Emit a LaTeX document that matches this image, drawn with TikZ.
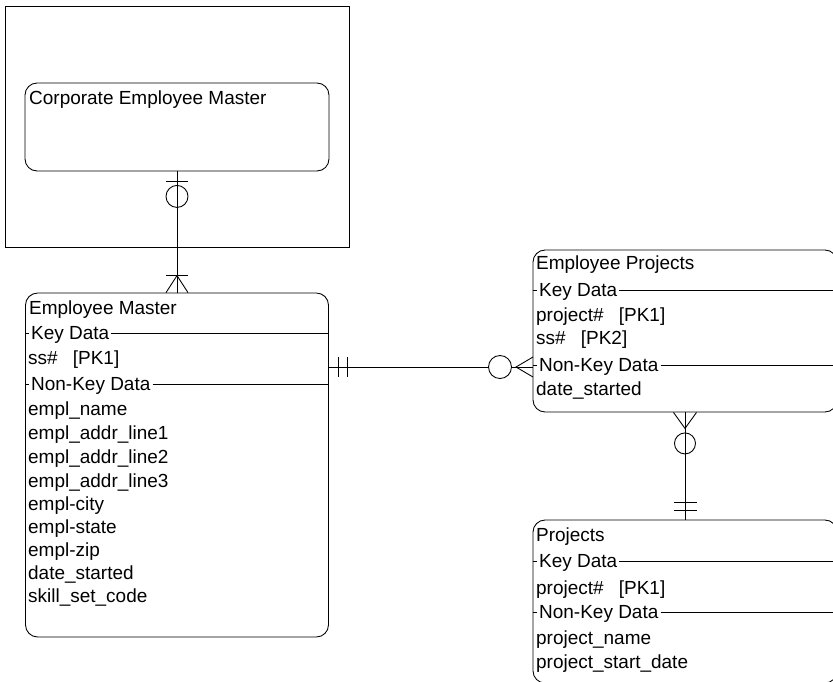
\documentclass[tikz,border=0pt]{standalone}
\usepackage{fontspec}
\setmainfont{Liberation Sans}
\usetikzlibrary{calc}

\begin{document}
\begin{tikzpicture}[
    x=0.02cm, y=-0.02cm, line width=0.5pt,
    ent/.style={draw, rounded corners=0.24cm, inner sep=0pt},
    fld/.style={anchor=west, inner xsep=1pt, inner ysep=0pt, text height=0.3cm, text depth=0.06cm, font=\fontsize{10.8pt}{13pt}\selectfont}
]
\useasboundingbox (0,0) rectangle (833,681);

% frame and entities
\node[draw, minimum width=6.88cm, minimum height=4.82cm, inner sep=0pt] (frame) at (177,126.5) {};
\node[ent, minimum width=6.08cm, minimum height=1.76cm] (cem) at (177,127) {};
\node[ent, minimum width=6.06cm, minimum height=6.88cm] (em) at (177,465) {};
\node[ent, minimum width=6.08cm, minimum height=3.24cm] (ep) at (685,331) {};
\node[ent, minimum width=6.08cm, minimum height=3.26cm] (prj) at (685,601.5) {};

% Corporate Employee Master
\node[fld] (cemT) at (27,98) {Corporate Employee Master};

% Employee Master
\node[fld] (emT) at (27,308) {Employee Master};
\node[fld] (emK) at (29,333) {Key Data};
\node[fld] (emF1) at (26,358) {ss\#\hspace{0.8em}[PK1]};
\node[fld] (emN) at (29,384) {Non-Key Data};
\node[fld] (emF2) at (26,409) {empl\_name};
\node[fld] (emF3) at (26,433) {empl\_addr\_line1};
\node[fld] (emF4) at (26,457) {empl\_addr\_line2};
\node[fld] (emF5) at (26,481) {empl\_addr\_line3};
\node[fld] (emF6) at (26,504) {empl-city};
\node[fld] (emF7) at (26,527) {empl-state};
\node[fld] (emF8) at (26,550) {empl-zip};
\node[fld] (emF9) at (26,573) {date\_started};
\node[fld] (emF10) at (26,596) {skill\_set\_code};
\draw (em.west |- emK) -- (emK.west);
\draw (emK.east) -- (em.east |- emK);
\draw (em.west |- emN) -- (emN.west);
\draw (emN.east) -- (em.east |- emN);

% Employee Projects
\node[fld] (epT) at (534,263) {Employee Projects};
\node[fld] (epK) at (537,290) {Key Data};
\node[fld] (epF1) at (534,315) {project\#\hspace{0.8em}[PK1]};
\node[fld] (epF2) at (534,338) {ss\#\hspace{0.8em}[PK2]};
\node[fld] (epN) at (537,365) {Non-Key Data};
\node[fld] (epF3) at (534,389) {date\_started};
\draw (ep.west |- epK) -- (epK.west);
\draw (epK.east) -- (ep.east |- epK);
\draw (ep.west |- epN) -- (epN.west);
\draw (epN.east) -- (ep.east |- epN);

% Projects
\node[fld] (prjT) at (534,535) {Projects};
\node[fld] (prjK) at (537,561) {Key Data};
\node[fld] (prjF1) at (534,588) {project\#\hspace{0.8em}[PK1]};
\node[fld] (prjN) at (537,612) {Non-Key Data};
\node[fld] (prjF2) at (534,638) {project\_name};
\node[fld] (prjF3) at (534,662) {project\_start\_date};
\draw (prj.west |- prjK) -- (prjK.west);
\draw (prjK.east) -- (prj.east |- prjK);
\draw (prj.west |- prjN) -- (prjN.west);
\draw (prjN.east) -- (prj.east |- prjN);

% Corporate Employee Master -- Employee Master
\draw (cem.south) -- (em.north);
\draw ($(cem.south)+(-11,10)$) -- ++(22,0);
\draw ($(cem.south)+(0,25)$) circle (0.22cm);
\draw ($(em.north)+(-11,-17)$) -- ++(22,0);
\draw ($(em.north)+(-11,0)$) -- ++(11,-17) -- ++(11,17);

% Employee Master -- Employee Projects
\coordinate (epIn) at (533,367);
\draw (em.east |- epIn) -- (epIn);
\draw ($(em.east |- epIn)+(10,-10)$) -- ++(0,20);
\draw ($(em.east |- epIn)+(19,-10)$) -- ++(0,20);
\draw[fill=white] ($(epIn)+(-33,0)$) circle (0.23cm);
\draw ($(epIn)+(0,-10)$) -- ++(-17,10) -- ++(17,10);

% Employee Projects -- Projects
\draw (ep.south) -- (prj.north);
\draw ($(ep.south)+(-11.5,0)$) -- ++(11.5,16) -- ++(11.5,-16);
\draw ($(ep.south)+(0,31)$) circle (0.21cm);
\draw ($(prj.north)+(-11.5,-17)$) -- ++(23,0);
\draw ($(prj.north)+(-11.5,-9)$) -- ++(23,0);
\end{tikzpicture}
\end{document}
